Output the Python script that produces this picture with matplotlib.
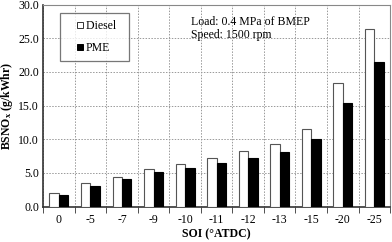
import matplotlib
matplotlib.use("Agg")
import matplotlib.pyplot as plt
from matplotlib.lines import Line2D
import numpy as np

categories = ["0", "-5", "-7", "-9", "-10", "-11", "-12", "-13", "-15", "-20", "-25"]
diesel = [2.0, 3.45, 4.4, 5.55, 6.4, 7.2, 8.2, 9.25, 11.5, 18.3, 26.4]
pme = [1.8, 3.1, 4.05, 5.1, 5.8, 6.55, 7.2, 8.1, 10.0, 15.4, 21.5]
yticks = [0, 5, 10, 15, 20, 25, 30]

plt.rcParams['font.family'] = ['Liberation Serif', 'DejaVu Serif']
plt.rcParams['mathtext.fontset'] = 'custom'
plt.rcParams['mathtext.rm'] = 'Liberation Serif'
plt.rcParams['mathtext.bf'] = 'Liberation Serif:bold'

fig = plt.figure(figsize=(3.92, 2.42), dpi=100)
ax = fig.add_axes([0.110, 0.146, 0.885, 0.835])

x = np.arange(len(categories))
w = 0.3
ax.bar(x - w/2, diesel, w, color='white', edgecolor='#555555', linewidth=0.8, zorder=3)
ax.bar(x + w/2, pme, w, color='black', edgecolor='black', linewidth=0.8, zorder=3)

ax.set_xlim(-0.5, len(categories) - 0.5)
ax.set_ylim(0, 30)
ax.set_yticks(yticks)
ax.set_yticklabels([f"{v:.1f}" for v in yticks], fontsize=8.5)
ax.set_xticks(x)
ax.set_xticklabels(categories, fontsize=8.5)
ax.tick_params(axis='x', length=0, pad=5)
ax.set_xticks(np.arange(len(categories) + 1) - 0.5, minor=True)
ax.tick_params(axis='x', which='minor', length=4, direction='out', color='#333333')
ax.tick_params(axis='y', length=0, pad=3)

ax.grid(True, axis='y', which='major', linestyle=(0, (1.5, 1.5)), color='#999999', linewidth=0.7, zorder=0)
ax.grid(True, axis='x', which='minor', linestyle=(0, (1.5, 1.5)), color='#999999', linewidth=0.7, zorder=0)

for s in ['top', 'right']:
    ax.spines[s].set_color('#888888')
    ax.spines[s].set_linewidth(0.8)
for s in ['left', 'bottom']:
    ax.spines[s].set_color('#333333')
    ax.spines[s].set_linewidth(1.2)

ax.set_ylabel(r"$\mathbf{BSNO_x}$ (g/kWhr)", fontsize=8.5, fontweight='bold', labelpad=2)
ax.set_xlabel("SOI (°ATDC)", fontsize=8.5, fontweight='bold', labelpad=2)

handles = [
    Line2D([], [], linestyle='none', marker='s', markersize=4.5, markerfacecolor='white',
           markeredgecolor='#333333', markeredgewidth=0.7),
    Line2D([], [], linestyle='none', marker='s', markersize=4.5, markerfacecolor='black',
           markeredgecolor='black', markeredgewidth=0.7),
]
leg = ax.legend(handles, ['Diesel  ', 'PME'], loc='upper left', bbox_to_anchor=(0.049, 0.96),
                fontsize=8.5, frameon=True, fancybox=False, edgecolor='#555555',
                handlelength=2.1, handletextpad=-0.55, labelspacing=0.85, borderpad=0.6,
                borderaxespad=0)
leg.get_frame().set_linewidth(0.9)

ax.text(0.425, 0.945, "Load: 0.4 MPa of BMEP\nSpeed: 1500 rpm", transform=ax.transAxes,
        fontsize=8.5, va='top', ha='left', linespacing=1.15)

fig.savefig("out.png", dpi=100)
